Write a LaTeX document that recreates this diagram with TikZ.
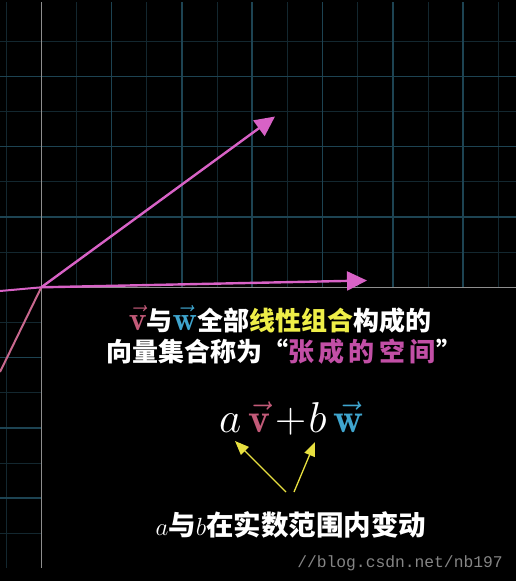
\documentclass[tikz,border=0pt]{standalone}
\usepackage{fontspec}
\newfontfamily\cjk{Noto Sans CJK SC}
\newfontfamily\wmfont{Liberation Mono}
\usetikzlibrary{arrows.meta}
\definecolor{majorc}{HTML}{1D4352}
\definecolor{minorc}{HTML}{13272F}
\definecolor{axisc}{HTML}{8E8E8E}
\definecolor{vecc}{HTML}{D862C6}
\definecolor{spanc}{HTML}{C8688E}
\definecolor{vcol}{HTML}{C25A78}
\definecolor{wcol}{HTML}{3FA5CE}
\definecolor{ycol}{HTML}{EEEE48}
\definecolor{mcol}{HTML}{C24FA6}
\definecolor{arrowy}{HTML}{E8E040}
\definecolor{wmc}{HTML}{858585}
\tikzset{
  minorline/.style={draw=minorc, line width=1pt},
  majorline/.style={draw=majorc, line width=1.5pt},
  axisline/.style={draw=axisc, line width=1.6pt},
  vecarrow/.style={draw=vecc, line width=2.4pt, -{Triangle[length=20pt,width=19pt]}},
  spanline/.style={line width=2pt},
  yarrow/.style={draw=arrowy, line width=1.3pt, -{Triangle[length=14pt,width=11pt]}},
  cjktxt/.style={text=white, inner sep=0pt, font=\cjk\bfseries\fontsize{26}{30}\selectfont},
}
\newcommand{\spc}{\hspace{4.5pt}}
\newcommand{\bigvec}[1]{\scalebox{1.3}{$\vec{\mathbf{#1}}$}}
\begin{document}
\begin{tikzpicture}[x=1pt,y=-1pt]
\fill[black] (0,0) rectangle (516,581);
\useasboundingbox (0,0) rectangle (516,581);
% grid (all but the lower-right quadrant)
\begin{scope}
\clip (0,2) -- (516,2) -- (516,287.3) -- (41.3,287.3) -- (41.3,568) -- (0,568) -- cycle;
\foreach \x in {6.2,76.5,146.8,217.1,287.4,357.7,428,498.3}
  \draw[minorline] (\x,2) -- (\x,568);
\foreach \y in {41.2,111.5,181.8,252.1,322.5,392.8,463.1,533.4}
  \draw[minorline] (0,\y) -- (516,\y);
\foreach \x in {111.6,181.9,252.2,322.5,392.8,463.1}
  \draw[majorline] (\x,2) -- (\x,568);
\foreach \y in {76.4,146.7,217,357.6,427.9,498.2}
  \draw[majorline] (0,\y) -- (516,\y);
\end{scope}
% axes
\coordinate (O) at (41.3,287.3);
\coordinate (ytop) at (41.3,2);
\coordinate (ybot) at (41.3,568);
\coordinate (xright) at (516,287.3);
\coordinate (xleft) at (0,291);
\coordinate (dl) at (0,372);
\draw[axisline] (ytop) -- (ybot);
\draw[axisline] (O) -- (xright);
% span lines and vectors
\draw[spanline, draw=spanc] (O) -- (dl);
\draw[spanline, draw=vecc] (O) -- (xleft);
\coordinate (vtip) at (275,116.5);
\coordinate (wtip) at (367,280.5);
\draw[vecarrow] (O) -- (vtip);
\draw[vecarrow] (O) -- (wtip);
% texts
\node[cjktxt, anchor=base] (line1) at (280,330)
  {\textcolor{vcol}{\bigvec{v}}与\textcolor{wcol}{\bigvec{w}}全部\textcolor{ycol}{线性组合}构成的};
\node[cjktxt, anchor=base] (line2) at (284,361)
  {向量集合称为“\textcolor{mcol}{张\spc 成\spc 的\spc 空\spc 间}”};
\node[text=white, inner sep=0pt, anchor=base, font=\fontsize{20}{24}\selectfont,
      scale=2.08, transform shape] (formula) at (291.5,432)
  {$a\,\textcolor{vcol}{\vec{\mathbf{v}}}\mkern2mu{+}\mkern1mu b\,\textcolor{wcol}{\vec{\mathbf{w}}}$};
\node[cjktxt, anchor=base, font=\cjk\bfseries\fontsize{27.5}{30}\selectfont] (line3) at (291,535)
  {$a$与$b$在实数范围内变动};
\node[text=wmc, inner sep=0pt, anchor=base, font=\wmfont\fontsize{16.3}{20}\selectfont] (wm) at (400,567)
  {//blog.csdn.net/nb197};
% yellow arrows
\coordinate (ys1) at (286,492);
\coordinate (yt1) at (235,441);
\coordinate (ys2) at (294,492);
\coordinate (yt2) at (315,442);
\draw[yarrow] (ys1) -- (yt1);
\draw[yarrow] (ys2) -- (yt2);
\end{tikzpicture}
\end{document}
